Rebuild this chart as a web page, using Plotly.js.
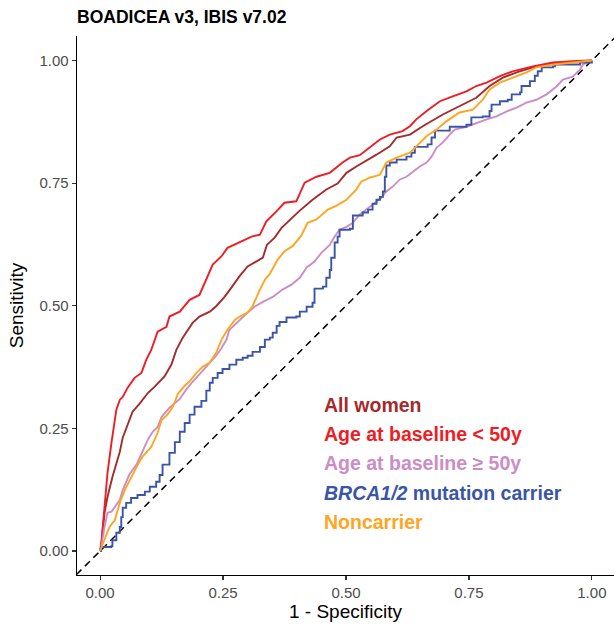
<!DOCTYPE html>
<html>
<head>
<meta charset="utf-8">
<script src="https://cdn.plot.ly/plotly-3.0.1.min.js"></script>
<style>html,body{margin:0;padding:0;background:#fff;}#chart{width:614px;height:625px;}</style>
</head>
<body>
<div id="chart"></div>
<script>
// ---- Data ----
const seriesNames = ["All women", "Age at baseline < 50y", "Age at baseline \u2265 50y", "<i>BRCA1/2</i> mutation carrier", "Noncarrier"];

const allX = [0,0.002,0.009,0.015,0.025,0.040,0.046,0.056,0.066,0.080,0.097,0.111,0.131,0.145,0.155,0.168,0.188,0.202,0.223,0.236,0.253,0.267,0.284,0.300,0.318,0.331,0.339,0.355,0.369,0.386,0.406,0.432,0.460,0.483,0.501,0.521,0.542,0.562,0.589,0.603,0.630,0.656,0.697,0.731,0.765,0.792,0.819,0.847,0.880,0.921,0.969,1];
const allY = [0,0.008,0.078,0.110,0.151,0.202,0.231,0.257,0.284,0.300,0.322,0.335,0.356,0.380,0.410,0.435,0.465,0.478,0.488,0.499,0.518,0.537,0.561,0.580,0.590,0.598,0.624,0.639,0.659,0.676,0.694,0.716,0.737,0.749,0.771,0.784,0.796,0.808,0.825,0.843,0.849,0.866,0.890,0.907,0.924,0.948,0.965,0.976,0.986,0.994,0.998,1];

const under50X = [0,0.003,0.009,0.015,0.023,0.026,0.033,0.040,0.046,0.056,0.070,0.084,0.094,0.104,0.117,0.135,0.141,0.162,0.182,0.202,0.216,0.229,0.247,0.259,0.283,0.308,0.325,0.338,0.358,0.375,0.399,0.416,0.440,0.467,0.493,0.508,0.528,0.542,0.569,0.589,0.615,0.630,0.643,0.664,0.691,0.717,0.745,0.765,0.786,0.813,0.839,0.880,0.921,0.969,1];
const under50Y = [0,0.022,0.090,0.159,0.220,0.241,0.288,0.308,0.314,0.333,0.353,0.363,0.390,0.410,0.447,0.457,0.478,0.488,0.512,0.522,0.553,0.584,0.601,0.618,0.629,0.641,0.645,0.672,0.692,0.710,0.713,0.751,0.763,0.771,0.792,0.802,0.807,0.818,0.839,0.849,0.856,0.866,0.880,0.897,0.917,0.927,0.937,0.948,0.955,0.968,0.978,0.988,0.996,0.999,1];

const over50X = [0,0.002,0.009,0.015,0.023,0.033,0.040,0.046,0.060,0.074,0.086,0.097,0.107,0.117,0.125,0.141,0.162,0.175,0.188,0.209,0.223,0.236,0.247,0.257,0.263,0.277,0.290,0.300,0.314,0.331,0.351,0.371,0.389,0.406,0.420,0.436,0.450,0.467,0.477,0.487,0.501,0.514,0.528,0.542,0.554,0.572,0.582,0.595,0.609,0.623,0.636,0.650,0.664,0.674,0.684,0.697,0.711,0.721,0.745,0.765,0.786,0.806,0.826,0.847,0.867,0.887,0.908,0.928,0.941,0.961,0.976,0.982,1];
const over50Y = [0,0.006,0.049,0.078,0.080,0.094,0.104,0.124,0.157,0.176,0.202,0.227,0.243,0.253,0.273,0.292,0.310,0.329,0.345,0.369,0.384,0.398,0.414,0.431,0.451,0.465,0.478,0.486,0.498,0.508,0.518,0.533,0.543,0.557,0.578,0.590,0.608,0.624,0.641,0.655,0.661,0.669,0.686,0.696,0.706,0.720,0.733,0.743,0.757,0.763,0.773,0.784,0.792,0.804,0.822,0.833,0.849,0.859,0.865,0.873,0.880,0.886,0.896,0.904,0.914,0.920,0.931,0.947,0.961,0.967,0.982,0.992,1];

const brcaX = [0,0.002,0.023,0.025,0.033,0.040,0.043,0.046,0.053,0.063,0.076,0.091,0.101,0.114,0.121,0.127,0.141,0.152,0.162,0.172,0.182,0.192,0.206,0.216,0.223,0.229,0.239,0.249,0.263,0.277,0.290,0.300,0.310,0.325,0.335,0.345,0.351,0.359,0.365,0.379,0.399,0.406,0.420,0.432,0.436,0.453,0.460,0.467,0.470,0.477,0.483,0.487,0.508,0.514,0.534,0.545,0.554,0.562,0.569,0.575,0.579,0.582,0.589,0.603,0.623,0.633,0.640,0.666,0.674,0.681,0.711,0.745,0.755,0.778,0.792,0.796,0.813,0.829,0.837,0.854,0.857,0.874,0.884,0.890,0.898,0.921,0.925,0.969,0.976,1];
const brcaY = [0,0.008,0.010,0.022,0.037,0.049,0.069,0.088,0.098,0.108,0.114,0.121,0.131,0.141,0.155,0.176,0.200,0.222,0.243,0.261,0.278,0.294,0.306,0.327,0.343,0.353,0.363,0.371,0.380,0.390,0.394,0.398,0.406,0.416,0.431,0.435,0.445,0.459,0.467,0.476,0.478,0.488,0.498,0.506,0.535,0.539,0.557,0.573,0.598,0.629,0.641,0.655,0.657,0.684,0.690,0.696,0.708,0.716,0.722,0.733,0.763,0.786,0.792,0.798,0.804,0.812,0.824,0.829,0.843,0.857,0.865,0.869,0.884,0.886,0.897,0.910,0.917,0.920,0.931,0.935,0.948,0.958,0.969,0.978,0.986,0.988,0.992,0.992,0.996,1];

const nonX = [0,0.009,0.019,0.030,0.040,0.050,0.060,0.074,0.086,0.104,0.117,0.125,0.137,0.148,0.158,0.172,0.182,0.196,0.209,0.223,0.236,0.247,0.259,0.274,0.284,0.300,0.310,0.318,0.325,0.335,0.345,0.361,0.375,0.392,0.409,0.422,0.440,0.463,0.481,0.501,0.521,0.531,0.548,0.569,0.582,0.603,0.630,0.643,0.664,0.684,0.704,0.731,0.758,0.778,0.792,0.813,0.839,0.867,0.887,0.921,0.962,1];
const nonY = [0,0.022,0.049,0.063,0.098,0.124,0.145,0.171,0.192,0.212,0.241,0.267,0.278,0.294,0.320,0.337,0.346,0.363,0.376,0.384,0.404,0.431,0.451,0.471,0.478,0.486,0.499,0.519,0.533,0.553,0.565,0.594,0.611,0.622,0.643,0.669,0.676,0.696,0.704,0.716,0.737,0.753,0.761,0.767,0.792,0.802,0.812,0.825,0.846,0.859,0.876,0.894,0.900,0.920,0.941,0.955,0.965,0.976,0.986,0.992,0.996,1];

const refLine = [-0.1, 1.1];
const tickVals = [0, 0.25, 0.5, 0.75, 1];
const tickText = ["0.00", "0.25", "0.50", "0.75", "1.00"];

// ---- Styles ----
const colors = ["#A52A2A", "#EE1D25", "#CC8CC6", "#3A55A6", "#FFA51F"];
const FONT = "Liberation Sans, Arial, Helvetica, sans-serif";

const seriesX = [allX, under50X, over50X, brcaX, nonX];
const seriesY = [allY, under50Y, over50Y, brcaY, nonY];
const shapes = ["linear", "linear", "linear", "hv", "linear"];

const traces = [{
  x: refLine, y: refLine, mode: "lines", type: "scatter",
  line: {color: "#000", width: 1.5, dash: "7px,5px"}, hoverinfo: "skip", showlegend: false
}];
for (let i = 0; i < seriesX.length; i++) {
  traces.push({
    x: seriesX[i], y: seriesY[i], mode: "lines", type: "scatter",
    line: {color: colors[i], width: 1.9, shape: shapes[i]},
    name: seriesNames[i], showlegend: false, hoverinfo: "skip"
  });
}

const legendY = [0.298, 0.239, 0.180, 0.118, 0.059];
const annotations = seriesNames.map((n, i) => ({
  x: 0.452, y: legendY[i], xref: "x", yref: "y", xanchor: "left", yanchor: "middle",
  text: "<b>" + n + "</b>", showarrow: false,
  font: {family: FONT, size: 19.5, color: colors[i]}
}));

const axisCommon = {
  showline: true, linecolor: "#000", linewidth: 1.3, mirror: false,
  ticks: "outside", ticklen: 4, tickwidth: 1.2, tickcolor: "#333",
  tickvals: tickVals, ticktext: tickText,
  tickfont: {family: FONT, size: 15, color: "#4D4D4D"},
  showgrid: false, zeroline: false, fixedrange: true
};

const layout = {
  width: 614, height: 625,
  margin: {l: 77, r: 0, t: 36, b: 50},
  paper_bgcolor: "#fff", plot_bgcolor: "#fff",
  font: {family: FONT},
  title: {
    text: "<b>BOADICEA v3, IBIS v7.02</b>",
    x: 77 / 614, xref: "container", xanchor: "left",
    y: 1 - 17 / 625, yref: "container", yanchor: "middle",
    font: {family: FONT, size: 17.5, color: "#000"}
  },
  xaxis: Object.assign({}, axisCommon, {
    range: [-0.047, 1.045],
    title: {text: "1 - Specificity", font: {family: FONT, size: 19, color: "#000"}, standoff: 4}
  }),
  yaxis: Object.assign({}, axisCommon, {
    range: [-0.049, 1.05],
    title: {text: "Sensitivity", font: {family: FONT, size: 19, color: "#000"}, standoff: 10}
  }),
  annotations: annotations,
  showlegend: false
};

Plotly.newPlot("chart", traces, layout, {displayModeBar: false, staticPlot: true});
</script>
</body>
</html>
